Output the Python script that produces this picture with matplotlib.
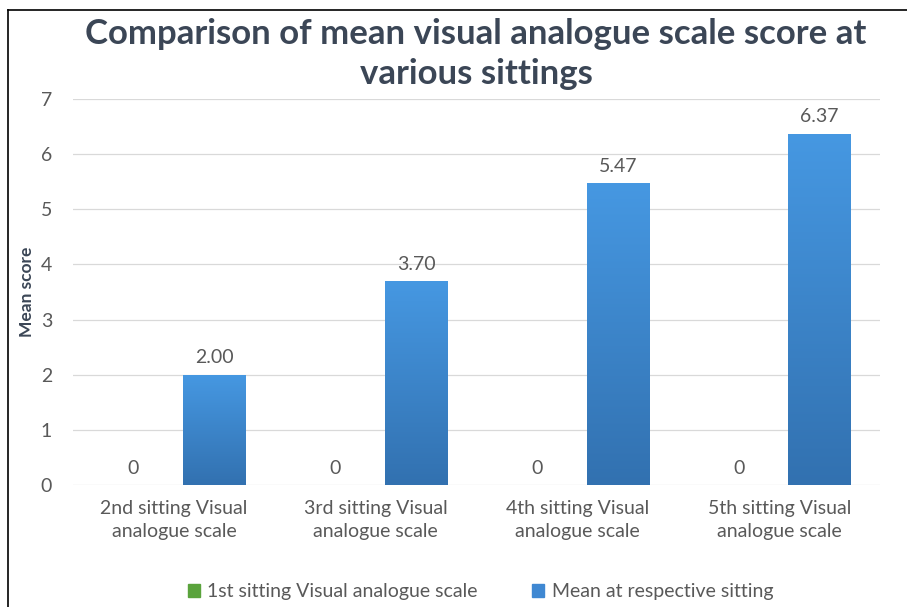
import numpy as np
import matplotlib
matplotlib.use("Agg")
import matplotlib.pyplot as plt
from matplotlib.lines import Line2D
from matplotlib.patches import Patch

plt.rcParams['font.family'] = ['Lato', 'DejaVu Sans']

categories = ["2nd sitting Visual\nanalogue scale", "3rd sitting Visual\nanalogue scale",
              "4th sitting Visual\nanalogue scale", "5th sitting Visual\nanalogue scale"]
first_sitting = [0, 0, 0, 0]
mean_sitting = [2.00, 3.70, 5.47, 6.37]
first_labels = ["0", "0", "0", "0"]
mean_labels = ["2.00", "3.70", "5.47", "6.37"]

fig = plt.figure(figsize=(9.07, 6.07), dpi=100)
ax = fig.add_axes([0.0805, 0.201, 0.890, 0.636])

x = np.arange(len(categories))
w = 0.31
off = 0.2
green_bars = ax.bar(x - off, first_sitting, w, color="#5aa33c", zorder=3)
blue_bars = ax.bar(x + off, mean_sitting, w, color="#3f88d2", zorder=3)

# vertical gradient on the blue bars
grad = np.linspace(0, 1, 256).reshape(-1, 1)
cmap = matplotlib.colors.LinearSegmentedColormap.from_list("g", ["#3271b0", "#4698e2"])
for b in blue_bars:
    bx, by = b.get_x(), b.get_y()
    bw, bh = b.get_width(), b.get_height()
    im = ax.imshow(grad, cmap=cmap, origin="lower", aspect="auto",
                   extent=[bx, bx + bw, by, by + bh], zorder=4)
    im.set_clip_path(b)

txt = "#595959"
for i in range(len(categories)):
    ax.text(x[i] - off, first_sitting[i] + 0.15, first_labels[i], ha="center", va="bottom",
            fontsize=14, color=txt, zorder=5)
    ax.text(x[i] + off, mean_sitting[i] + 0.15, mean_labels[i], ha="center", va="bottom",
            fontsize=14, color=txt, zorder=5)

ax.set_xlim(-0.5, len(categories) - 0.5)
ax.set_ylim(0, 7)
ax.set_yticks(range(0, 8))
ax.set_xticks(x)
ax.set_xticklabels(categories, fontsize=14, color=txt, linespacing=1.4)
ax.tick_params(axis="y", labelsize=14, labelcolor=txt, length=0, pad=15)
ax.tick_params(axis="x", length=0, pad=11)
ax.grid(axis="y", color="#d9d9d9", linewidth=0.9, zorder=0)
for s in ax.spines.values():
    s.set_visible(False)
ax.set_ylabel("Mean score", fontsize=12.5, fontweight="bold", color="#3b4656", labelpad=4)

fig.text(0.525, 0.911, "Comparison of mean visual analogue scale score at\nvarious sittings",
         ha="center", va="center", fontsize=25, fontweight="bold", color="#3b4656",
         linespacing=1.3)

handles = [Patch(color="#5aa33c"), Patch(color="#3f88d2")]
fig.legend(handles, ["1st sitting Visual analogue scale", "Mean at respective sitting"],
           loc="center", bbox_to_anchor=(0.53, 0.025), ncol=2, frameon=False,
           fontsize=14, labelcolor=txt, handlelength=0.6, handleheight=0.6,
           handletextpad=0.4, columnspacing=2.8)

# partial frame: top and left edges
fig.add_artist(Line2D([0.0088, 1.0], [0.9835, 0.9835], color="black", linewidth=1.2,
                      transform=fig.transFigure))
fig.add_artist(Line2D([0.0088, 0.0088], [0.0, 0.9835], color="black", linewidth=1.2,
                      transform=fig.transFigure))

fig.savefig("out.png", dpi=100, facecolor="white")
